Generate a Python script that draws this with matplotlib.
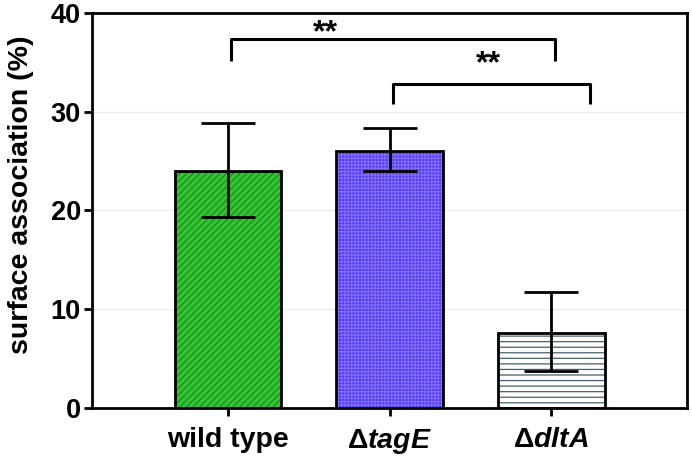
import numpy as np
import matplotlib
matplotlib.use("Agg")
import matplotlib.pyplot as plt

plt.rcParams['font.family'] = ['Liberation Sans', 'DejaVu Sans']
plt.rcParams['font.weight'] = 'bold'
plt.rcParams['mathtext.fontset'] = 'custom'
plt.rcParams['mathtext.rm'] = 'Liberation Sans:bold'
plt.rcParams['mathtext.it'] = 'Liberation Sans:italic:bold'
plt.rcParams['mathtext.bf'] = 'Liberation Sans:bold'
plt.rcParams['hatch.linewidth'] = 0.9

# data
strains = ['wild type', r'$\Delta\mathit{tagE}$', r'$\Delta\mathit{dltA}$']
means = [24.0, 26.0, 7.6]
err_low = [4.7, 2.0, 3.9]
err_high = [4.9, 2.3, 4.1]
ticks_y = [0, 10, 20, 30, 40]

fills = ['#33c433', '#5234f4', '#ffffff']
hatch_colors = ['#1d8a1d', '#7f6ef8', '#44606c']
hatches = ['/////', '+++++', '---']

fig = plt.figure(figsize=(6.92, 4.63), dpi=100)
ax = fig.add_axes([0.133, 0.119, 0.860, 0.853])

x = np.arange(len(strains))
w = 0.66
for i in range(len(strains)):
    ax.bar(x[i], means[i], width=w, color=fills[i], edgecolor=hatch_colors[i],
           hatch=hatches[i], linewidth=0, zorder=2)
    ax.bar(x[i], means[i], width=w, fill=False, edgecolor='black',
           linewidth=2.0, zorder=3)

ax.errorbar(x, means, yerr=[err_low, err_high], fmt='none', ecolor='black',
            elinewidth=2.0, capsize=19.5, capthick=2.0, zorder=4)

# significance brackets
def bracket(x1, x2, y, h, label, tx, ty):
    ax.plot([x1, x1, x2, x2], [y - h, y, y, y - h], color='black', lw=2.2,
            clip_on=False, zorder=5, solid_capstyle='butt')
    ax.text(tx, ty, label, ha='center', va='baseline', fontsize=23,
            fontweight='bold')

bracket(0.02, 2.02, 37.4, 2.3, '**', 0.60, 37.15)
bracket(1.02, 2.24, 32.8, 2.0, '**', 1.61, 34.0)

ax.set_xlim(-0.84, 2.84)
ax.set_ylim(0, 40)
ax.set_yticks(ticks_y)
ax.set_xticks(x)
ax.set_xticklabels(strains, fontsize=20.5, fontweight='bold')
ax.tick_params(axis='y', labelsize=19.5, width=2, length=6, pad=2)
ax.tick_params(axis='x', width=2, length=6, pad=8)
ax.set_ylabel('surface association (%)', fontsize=20.5, fontweight='bold')
ax.yaxis.set_label_coords(-0.097, 0.54)

ax.grid(axis='y', color='#ececec', lw=1, zorder=0)
ax.set_axisbelow(True)
for sp in ax.spines.values():
    sp.set_linewidth(2.0)
    sp.set_color('black')

fig.savefig('out.png', dpi=100)
